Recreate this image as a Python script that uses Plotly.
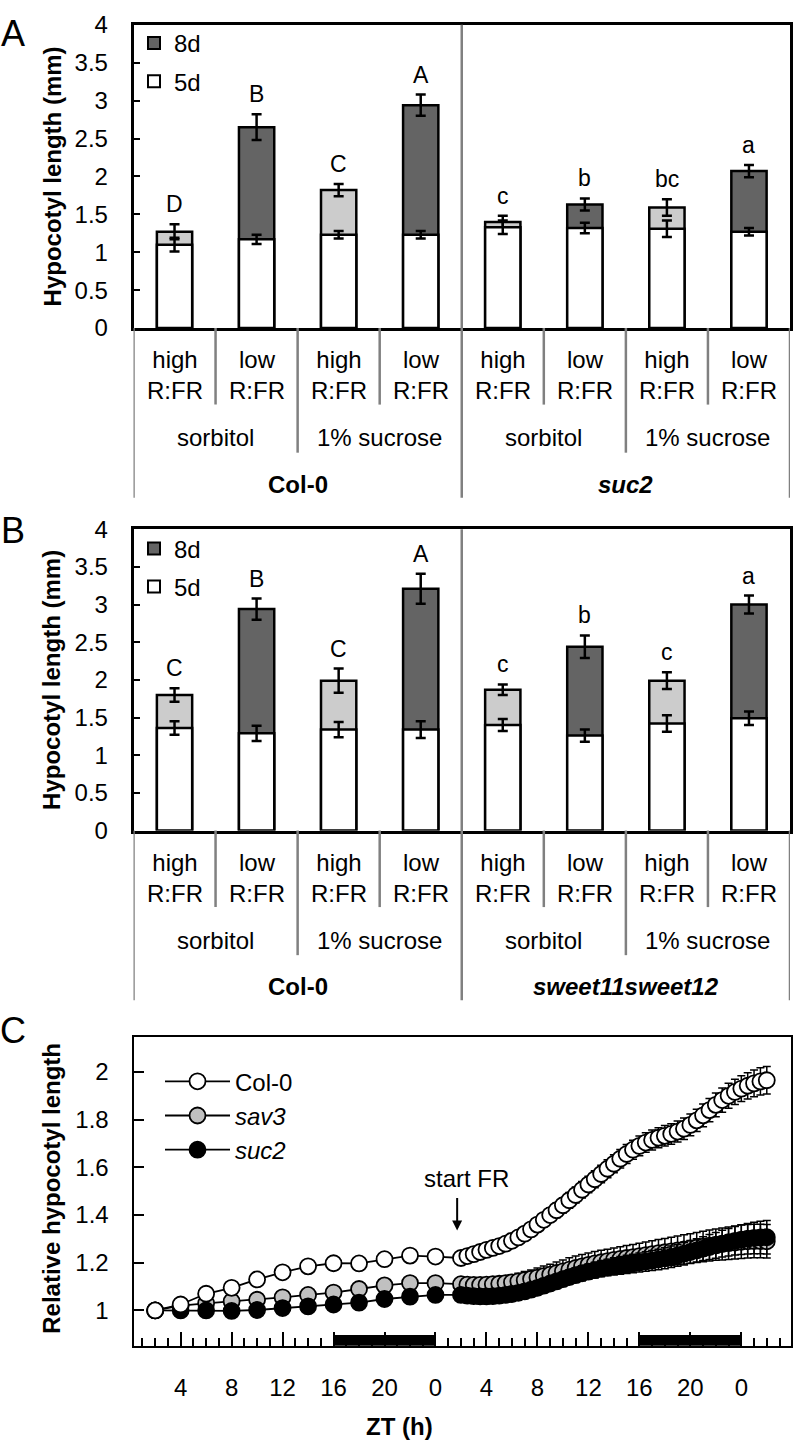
import plotly.graph_objects as go

W, H = 796, 1452
FONT = "Liberation Sans, Arial, sans-serif"

# ---------------- data: panels A and B ----------------
conditions = ["high<br>R:FR", "low<br>R:FR", "high<br>R:FR", "low<br>R:FR",
              "high<br>R:FR", "low<br>R:FR", "high<br>R:FR", "low<br>R:FR"]
light = ["high", "low", "high", "low", "high", "low", "high", "low"]
media = ["sorbitol", "1% sucrose", "sorbitol", "1% sucrose"]

a_genotypes = ["<b>Col-0</b>", "<b><i>suc2</i></b>"]
a_5d = [1.10, 1.17, 1.23, 1.23, 1.33, 1.32, 1.31, 1.27]
a_5d_err = [0.09, 0.06, 0.05, 0.05, 0.09, 0.07, 0.11, 0.05]
a_8d = [1.27, 2.65, 1.82, 2.94, 1.40, 1.63, 1.59, 2.07]
a_8d_err = [0.10, 0.17, 0.08, 0.14, 0.08, 0.08, 0.11, 0.08]
a_letters = ["D", "B", "C", "A", "c", "b", "bc", "a"]

b_genotypes = ["<b>Col-0</b>", "<b><i>sweet11sweet12</i></b>"]
b_5d = [1.36, 1.29, 1.34, 1.34, 1.40, 1.26, 1.42, 1.49]
b_5d_err = [0.09, 0.10, 0.10, 0.11, 0.08, 0.08, 0.11, 0.09]
b_8d = [1.80, 2.94, 1.99, 3.21, 1.87, 2.44, 1.99, 3.00]
b_8d_err = [0.09, 0.14, 0.16, 0.20, 0.07, 0.15, 0.11, 0.12]
b_letters = ["C", "B", "C", "A", "c", "b", "c", "a"]

# ---------------- data: panel C ----------------
t_sparse = [2, 4, 6, 8, 10, 12, 14, 16, 18, 20, 22, 24]
t_dense = [26, 26.5, 27, 27.5, 28, 28.5, 29, 29.5, 30, 30.5, 31, 31.5, 32, 32.5,
           33, 33.5, 34, 34.5, 35, 35.5, 36, 36.5, 37, 37.5, 38, 38.5, 39, 39.5,
           40, 40.5, 41, 41.5, 42, 42.5, 43, 43.5, 44, 44.5, 45, 45.5, 46, 46.5,
           47, 47.5, 48, 48.5, 49, 49.5, 50]

col0_sparse = [1.000, 1.025, 1.070, 1.095, 1.130, 1.160, 1.185, 1.198, 1.197, 1.215, 1.230, 1.226]
col0_sparse_err = [0.0, 0.004, 0.006, 0.006, 0.007, 0.008, 0.008, 0.009, 0.010, 0.010, 0.011, 0.012]
col0_dense = [1.220, 1.228, 1.236, 1.245, 1.254, 1.262, 1.270,
              1.280, 1.292, 1.306, 1.322, 1.340, 1.360, 1.380,
              1.400, 1.420, 1.441, 1.462, 1.484, 1.506, 1.528,
              1.550, 1.572, 1.594, 1.615, 1.636, 1.656, 1.674,
              1.690, 1.704, 1.715, 1.724, 1.732, 1.740, 1.750,
              1.762, 1.778, 1.797, 1.818, 1.840, 1.862, 1.882,
              1.900, 1.916, 1.930, 1.942, 1.952, 1.960, 1.965]
col0_dense_err = [0.012, 0.013, 0.014, 0.015, 0.016, 0.018, 0.019,
                  0.021, 0.022, 0.024, 0.025, 0.027, 0.028, 0.029,
                  0.030, 0.031, 0.032, 0.033, 0.034, 0.035, 0.035,
                  0.036, 0.037, 0.038, 0.038, 0.039, 0.040, 0.040,
                  0.041, 0.041, 0.042, 0.042, 0.043, 0.043, 0.044,
                  0.045, 0.046, 0.047, 0.048, 0.049, 0.050, 0.051,
                  0.052, 0.053, 0.054, 0.055, 0.056, 0.057, 0.058]

sav3_sparse = [1.000, 1.020, 1.030, 1.038, 1.045, 1.055, 1.065, 1.075, 1.090, 1.105, 1.115, 1.115]
sav3_sparse_err = [0.0, 0.005, 0.006, 0.007, 0.008, 0.009, 0.010, 0.011, 0.012, 0.013, 0.014, 0.015]
sav3_dense = [1.110, 1.108, 1.107, 1.107, 1.108, 1.110, 1.112,
              1.115, 1.118, 1.122, 1.127, 1.132, 1.138, 1.144,
              1.150, 1.157, 1.164, 1.171, 1.178, 1.185, 1.191,
              1.197, 1.202, 1.207, 1.212, 1.216, 1.220, 1.224,
              1.228, 1.232, 1.236, 1.240, 1.244, 1.248, 1.252,
              1.256, 1.260, 1.264, 1.268, 1.272, 1.276, 1.279,
              1.282, 1.285, 1.288, 1.290, 1.291, 1.291, 1.290]
sav3_dense_err = [0.016, 0.018, 0.020, 0.022, 0.024, 0.026, 0.028,
                  0.030, 0.032, 0.034, 0.036, 0.038, 0.040, 0.042,
                  0.044, 0.046, 0.048, 0.050, 0.050, 0.050, 0.050,
                  0.050, 0.050, 0.050, 0.050, 0.051, 0.052, 0.053,
                  0.054, 0.055, 0.056, 0.057, 0.058, 0.059, 0.060,
                  0.061, 0.062, 0.063, 0.064, 0.065, 0.066, 0.067,
                  0.068, 0.069, 0.070, 0.070, 0.070, 0.070, 0.070]

suc2_sparse = [1.000, 1.000, 1.000, 0.998, 1.002, 1.010, 1.017, 1.025, 1.033, 1.048, 1.058, 1.065]
suc2_sparse_err = [0.0, 0.004, 0.005, 0.005, 0.006, 0.007, 0.008, 0.008, 0.009, 0.010, 0.011, 0.012]
suc2_dense = [1.065, 1.062, 1.060, 1.059, 1.059, 1.060, 1.062,
              1.065, 1.069, 1.074, 1.080, 1.087, 1.095, 1.104,
              1.113, 1.122, 1.131, 1.140, 1.148, 1.156, 1.163,
              1.169, 1.175, 1.180, 1.185, 1.189, 1.193, 1.197,
              1.201, 1.205, 1.209, 1.214, 1.219, 1.225, 1.231,
              1.238, 1.245, 1.252, 1.259, 1.266, 1.273, 1.280,
              1.286, 1.292, 1.297, 1.301, 1.304, 1.306, 1.307]
suc2_dense_err = [0.012, 0.013, 0.014, 0.015, 0.016, 0.017, 0.018,
                  0.019, 0.020, 0.021, 0.022, 0.023, 0.024, 0.025,
                  0.026, 0.027, 0.028, 0.029, 0.030, 0.031, 0.032,
                  0.033, 0.034, 0.035, 0.036, 0.037, 0.038, 0.039,
                  0.040, 0.041, 0.042, 0.043, 0.044, 0.045, 0.046,
                  0.047, 0.048, 0.049, 0.050, 0.052, 0.054, 0.056,
                  0.058, 0.060, 0.062, 0.064, 0.066, 0.068, 0.070]

zt_tickvals = [4, 8, 12, 16, 20, 24, 28, 32, 36, 40, 44, 48]
zt_ticktext = ["4", "8", "12", "16", "20", "0", "4", "8", "12", "16", "20", "0"]
night_start = [16, 40]
night_end = [24, 48]
fr_start = 25.7

# ---------------- helpers ----------------
def py(px):
    return 1 - px / H

def pxx(px):
    return px / W

shade = {"high": "#cccccc", "low": "#646464"}
GRAY = "#808080"
TXT = 24

fig = go.Figure()
annotations = []
shapes = []


def paper_text(xp, yp, text, size=TXT, angle=0):
    annotations.append(dict(x=pxx(xp), y=py(yp), xref="paper", yref="paper", text=text,
                            textangle=angle, showarrow=False, xanchor="center", yanchor="middle",
                            font=dict(size=size, family=FONT, color="black")))


panels = [
    dict(xa="x", ya="y", leg="legend", top=11, bottom=320, g=a_genotypes,
         v5=a_5d, e5=a_5d_err, v8=a_8d, e8=a_8d_err, let=a_letters, label="A", ly=20),
    dict(xa="x2", ya="y2", leg="legend2", top=525, bottom=832, g=b_genotypes,
         v5=b_5d, e5=b_5d_err, v8=b_8d, e8=b_8d_err, let=b_letters, label="B", ly=526),
]

idx = list(range(len(conditions)))
for p in panels:
    fig.add_trace(go.Bar(
        x=idx, y=p["v8"], xaxis=p["xa"], yaxis=p["ya"], width=0.43,
        marker=dict(color=[shade[l] for l in light], line=dict(color="black", width=2.5)),
        error_y=dict(type="data", array=p["e8"], color="black", thickness=2.5, width=5),
        showlegend=False))
    fig.add_trace(go.Bar(
        x=idx, y=p["v5"], xaxis=p["xa"], yaxis=p["ya"], width=0.43,
        marker=dict(color="white", line=dict(color="black", width=2.5)),
        error_y=dict(type="data", array=p["e5"], color="black", thickness=2.5, width=5),
        showlegend=False))
    # legend swatches
    fig.add_trace(go.Scatter(x=[None], y=[None], xaxis=p["xa"], yaxis=p["ya"], mode="markers",
                             name="8d", legend=p["leg"], legendgroup=p["leg"] + "8",
                             marker=dict(symbol="square", size=12, color="#646464",
                                         line=dict(color="black", width=2))))
    fig.add_trace(go.Scatter(x=[None], y=[None], xaxis=p["xa"], yaxis=p["ya"], mode="markers",
                             name="5d", legend=p["leg"], legendgroup=p["leg"] + "5",
                             marker=dict(symbol="square", size=12, color="white",
                                         line=dict(color="black", width=2))))
    # significance letters
    for i, (v, e, t) in enumerate(zip(p["v8"], p["e8"], p["let"])):
        annotations.append(dict(x=i, y=v + e, xref=p["xa"], yref=p["ya"], text=t,
                                showarrow=False, xanchor="center", yanchor="middle", yshift=20,
                                font=dict(size=23, family=FONT, color="black")))
    b = p["bottom"]
    # category labels
    for i, c in enumerate(conditions):
        annotations.append(dict(x=i, y=py(b + 48), xref=p["xa"], yref="paper", text=c,
                                showarrow=False, xanchor="center", yanchor="middle",
                                font=dict(size=TXT, family=FONT, color="black")))
    for j, m in enumerate(media):
        annotations.append(dict(x=2 * j + 0.5, y=py(b + 112), xref=p["xa"], yref="paper", text=m,
                                showarrow=False, xanchor="center", yanchor="middle",
                                font=dict(size=TXT, family=FONT, color="black")))
    for j, g in enumerate(p["g"]):
        annotations.append(dict(x=4 * j + 1.5, y=py(b + 159), xref=p["xa"], yref="paper", text=g,
                                showarrow=False, xanchor="center", yanchor="middle",
                                font=dict(size=TXT, family=FONT, color="black")))
    # separator lines
    for xv in [0.5, 2.5, 4.5, 6.5]:
        shapes.append(dict(type="line", xref=p["xa"], yref="paper", x0=xv, x1=xv,
                           y0=py(b), y1=py(b + 78), line=dict(color=GRAY, width=2.5)))
    for xv in [1.5, 5.5]:
        shapes.append(dict(type="line", xref=p["xa"], yref="paper", x0=xv, x1=xv,
                           y0=py(b), y1=py(b + 127), line=dict(color=GRAY, width=2.5)))
    for xv in [-0.5, 7.5]:
        shapes.append(dict(type="line", xref=p["xa"], yref="paper", x0=xv, x1=xv,
                           y0=py(b), y1=py(b + 173), line=dict(color=GRAY, width=2.5)))
    shapes.append(dict(type="line", xref=p["xa"], yref="paper", x0=3.5, x1=3.5,
                       y0=py(p["top"]), y1=py(b + 173), line=dict(color=GRAY, width=2.5)))
    # y title & panel label
    paper_text(52, (p["top"] + b) / 2, "<b>Hypocotyl length (mm)</b>", angle=-90)
    paper_text(13, p["ly"], p["label"], size=36)

# ---------------- panel C ----------------
series = [
    ("<i>sav3</i>", sav3_sparse + sav3_dense, sav3_sparse_err + sav3_dense_err, "#c0c0c0", 2),
    ("<i>suc2</i>", suc2_sparse + suc2_dense, suc2_sparse_err + suc2_dense_err, "black", 3),
    ("Col-0", col0_sparse + col0_dense, col0_sparse_err + col0_dense_err, "white", 1),
]
t_all = t_sparse + t_dense
for name, ys, es, col, rank in series:
    fig.add_trace(go.Scatter(
        x=t_all, y=ys, xaxis="x3", yaxis="y3", mode="lines+markers", name=name,
        legend="legend3", legendrank=rank,
        line=dict(color="black", width=1.8),
        marker=dict(size=16, color=col, line=dict(color="black", width=1.8)),
        error_y=dict(type="data", array=es, color="black", thickness=1.5, width=4)))

for s, e in zip(night_start, night_end):
    shapes.append(dict(type="rect", xref="x3", yref="paper", x0=s, x1=e,
                       y0=py(1357), y1=py(1346), fillcolor="black", line=dict(width=0)))

annotations.append(dict(x=fr_start + 0.7, y=py(1187), xref="x3", yref="paper", text="start FR",
                        showarrow=False, xanchor="center", yanchor="middle",
                        font=dict(size=TXT, family=FONT, color="black")))
annotations.append(dict(x=fr_start, y=1.335, xref="x3", yref="y3", text="", showarrow=True,
                        ax=0, ay=-34, arrowhead=2, arrowsize=1, arrowwidth=2, arrowcolor="black"))
paper_text(52, 1197, "<b>Relative hypocotyl length</b>", angle=-90)
paper_text(400, 1439, "<b>ZT (h)</b>")
paper_text(13, 1036, "C", size=36)

# ---------------- axes ----------------
bar_x = dict(range=[-0.5, 7.5], showticklabels=False, ticks="", showgrid=False, zeroline=False,
             showline=True, mirror=True, linecolor="black", linewidth=2.5, fixedrange=True)
bar_y = dict(range=[0, 4], tickvals=[0, 0.5, 1, 1.5, 2, 2.5, 3, 3.5, 4],
             ticktext=["0", "0.5", "1", "1.5", "2", "2.5", "3", "3.5", "4"],
             ticks="inside", ticklen=7, tickwidth=2, tickcolor="black", ticklabelstandoff=18,
             showgrid=False, zeroline=False, showline=True, mirror=True, linecolor="black",
             linewidth=2.5, tickfont=dict(size=TXT, family=FONT, color="black"))

minor_vals = [v for v in range(1, 52) if v % 4 != 0]

leg_common = dict(xanchor="left", yanchor="top", bgcolor="rgba(0,0,0,0)",
                  font=dict(size=TXT, family=FONT, color="black"))

fig.update_layout(
    width=W, height=H, margin=dict(l=0, r=0, t=0, b=0),
    paper_bgcolor="white", plot_bgcolor="white", barmode="overlay",
    font=dict(family=FONT, color="black"),
    xaxis=dict(bar_x, domain=[pxx(133.5), pxx(790)], anchor="y"),
    yaxis=dict(bar_y, domain=[py(320), py(11)], anchor="x"),
    xaxis2=dict(bar_x, domain=[pxx(133.5), pxx(790)], anchor="y2"),
    yaxis2=dict(bar_y, domain=[py(832), py(525)], anchor="x2"),
    xaxis3=dict(domain=[pxx(133.5), pxx(791)], anchor="y3", range=[0.3, 51.9],
                tickmode="array", tickvals=zt_tickvals, ticktext=zt_ticktext,
                ticks="inside", ticklen=14, tickwidth=1.5, tickcolor="black",
                minor=dict(tickmode="array", tickvals=minor_vals, ticks="inside", ticklen=8,
                           tickwidth=1.5, tickcolor="black"),
                ticklabelstandoff=19, showgrid=False, zeroline=False, showline=True, mirror=True,
                linecolor="black", linewidth=2, tickfont=dict(size=TXT, family=FONT, color="black")),
    yaxis3=dict(domain=[py(1357), py(1042)], anchor="x3", range=[0.852, 2.148],
                tickvals=[1, 1.2, 1.4, 1.6, 1.8, 2], ticktext=["1", "1.2", "1.4", "1.6", "1.8", "2"],
                ticks="inside", ticklen=10, tickwidth=1.5, tickcolor="black", ticklabelstandoff=18,
                showgrid=False, zeroline=False, showline=True, mirror=True, linecolor="black",
                linewidth=2, tickfont=dict(size=TXT, family=FONT, color="black")),
    legend=dict(leg_common, x=pxx(134), y=py(7), itemwidth=30, tracegroupgap=4),
    legend2=dict(leg_common, x=pxx(134), y=py(522), itemwidth=30, tracegroupgap=4),
    legend3=dict(leg_common, x=pxx(160), y=py(1065), itemwidth=65),
    annotations=annotations, shapes=shapes,
)

fig.write_html("out.html", config={"displayModeBar": False},
               post_script="document.body.style.margin='0px';")
